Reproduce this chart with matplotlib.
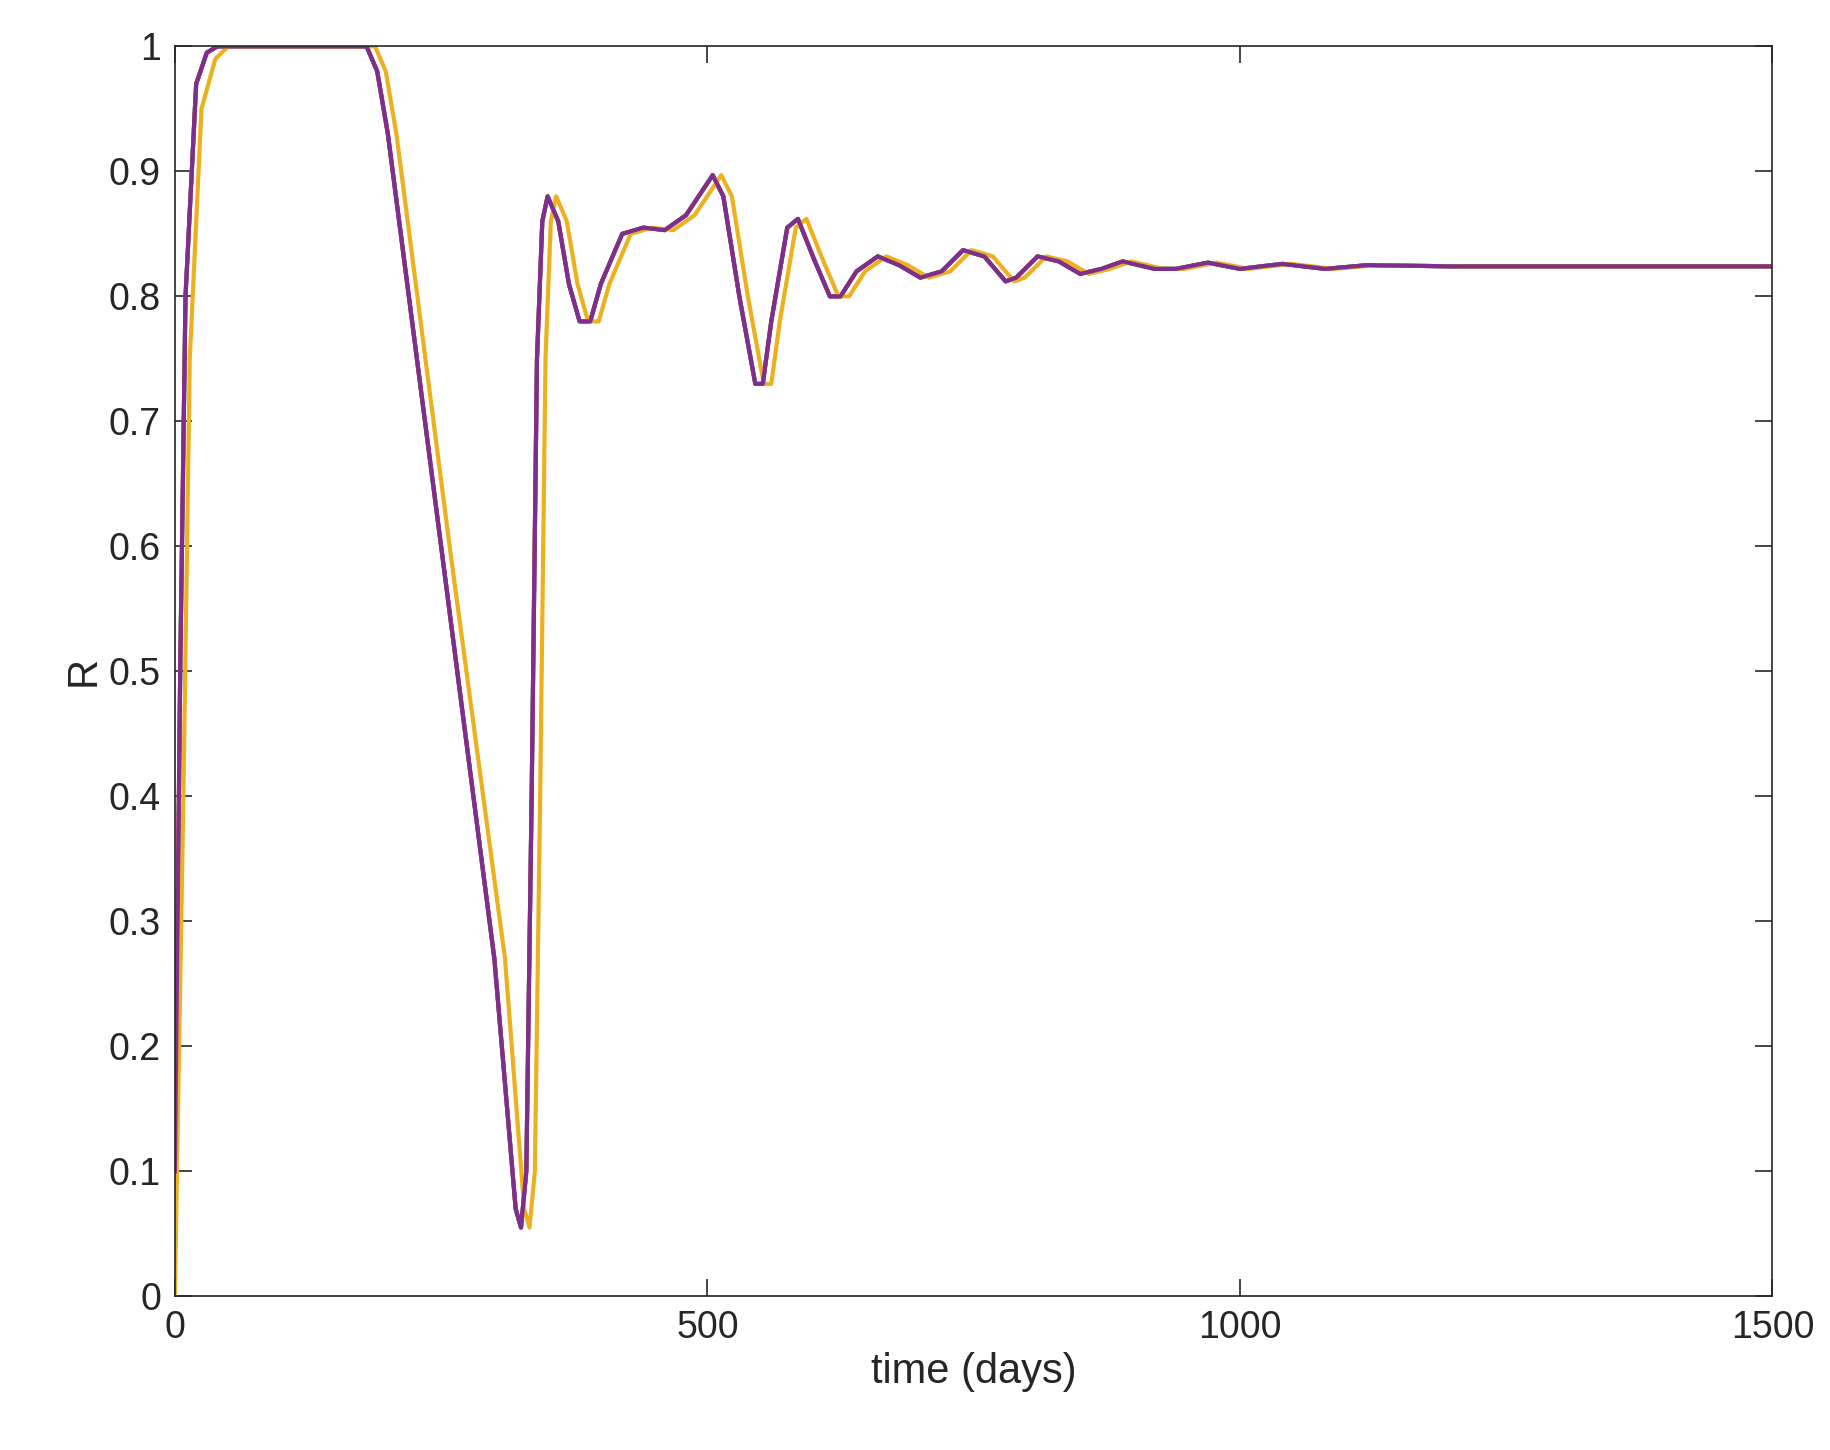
import matplotlib
matplotlib.use("Agg")
import matplotlib.pyplot as plt

t_main = [0,5,10,20,30,40,180,190,200,250,300,320,325,330,335,340,345,350,360,370,380,390,400,420,440,460,480,505,515,530,545,552,560,575,585,600,615,625,640,660,680,700,720,740,760,780,790,810,830,850,870,890,920,940,970,1000,1040,1080,1120,1200,1500]
r_purple = [0.1,0.5,0.8,0.97,0.995,1,1,0.98,0.93,0.6,0.27,0.07,0.055,0.1,0.4,0.75,0.86,0.88,0.86,0.81,0.78,0.78,0.81,0.85,0.855,0.853,0.865,0.897,0.88,0.8,0.73,0.73,0.78,0.855,0.862,0.83,0.80,0.80,0.82,0.832,0.825,0.815,0.82,0.837,0.832,0.812,0.815,0.832,0.828,0.818,0.822,0.828,0.822,0.822,0.827,0.822,0.826,0.822,0.825,0.824,0.824]
r_red = r_purple
r_blue = [0.05] + r_purple[1:]
t_yellow = [0,8,14,25,38,50,188,198,208,258,310,328,333,338,343,348,353,358,368,378,388,398,408,428,448,468,488,513,523,538,553,560,568,583,593,608,623,633,648,668,688,708,728,748,768,788,798,818,838,858,878,898,928,948,978,1008,1048,1088,1128,1208,1500]
r_yellow = [0.0,0.4,0.75,0.95,0.99,1,1,0.98,0.93,0.6,0.27,0.07,0.055,0.1,0.4,0.75,0.86,0.88,0.86,0.81,0.78,0.78,0.81,0.85,0.855,0.853,0.865,0.897,0.88,0.8,0.73,0.73,0.78,0.855,0.862,0.83,0.80,0.80,0.82,0.832,0.825,0.815,0.82,0.837,0.832,0.812,0.815,0.832,0.828,0.818,0.822,0.828,0.822,0.822,0.827,0.822,0.826,0.822,0.825,0.824,0.824]

plt.rcParams['font.family'] = ['Liberation Sans', 'DejaVu Sans']
fig = plt.figure(figsize=(18.31, 14.5), dpi=100)
ax = fig.add_axes([0.0955, 0.106, 0.8725, 0.862])
lw = 3
ax.plot(t_main, r_blue, color='#0072BD', lw=lw)
ax.plot(t_main, r_red, color='#D95319', lw=lw)
ax.plot(t_yellow, r_yellow, color='#EDB120', lw=lw)
ax.plot(t_main, r_purple, color='#7E2F8E', lw=lw)
ax.set_xlim(0, 1500)
ax.set_ylim(0, 1)
ax.set_xticks([0, 500, 1000, 1500])
ax.set_yticks([i/10 for i in range(11)])
ax.set_yticklabels(['0'] + [f'{i/10:.1f}' for i in range(1, 10)] + ['1'])
ax.tick_params(direction='in', top=True, right=True, labelsize=27, length=12, width=1.2, colors='#262626', pad=10)
for s in ax.spines.values():
    s.set_color('#262626'); s.set_linewidth(1.2)
ax.set_xlabel('time (days)', fontsize=30, color='#262626')
ax.set_ylabel('R', fontsize=30, color='#262626')
fig.savefig('out.png', dpi=100)
